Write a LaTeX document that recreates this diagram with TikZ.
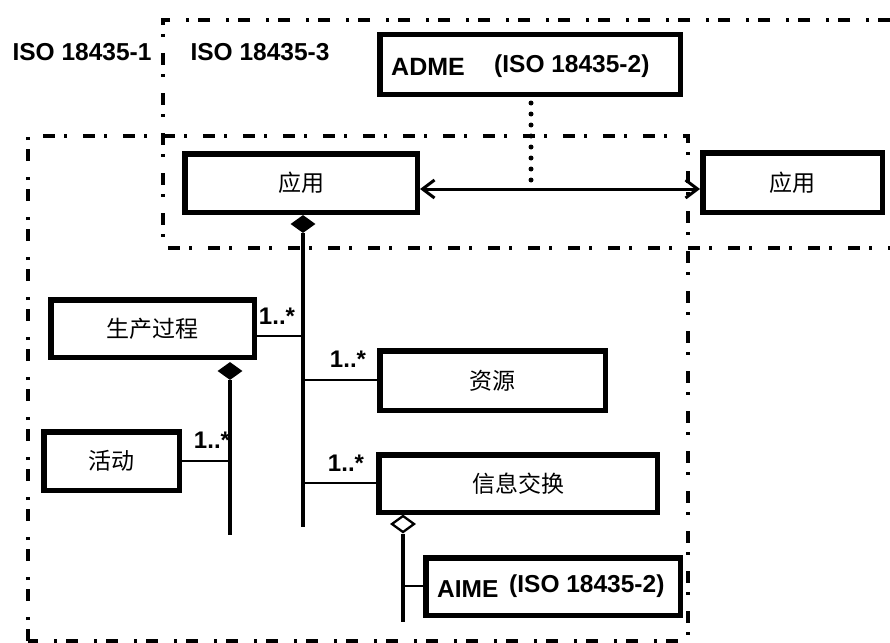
\documentclass[tikz,border=0pt]{standalone}
\usepackage{fontspec}
\setmainfont{Liberation Sans}
\newfontfamily\cjk{Noto Sans CJK SC}
\usetikzlibrary{arrows.meta,shapes.geometric}
\tikzset{
  umlbox/.style={draw, line width=5.5pt, fill=white, inner sep=0pt, font=\cjk\fontsize{23}{26}\selectfont},
  frame/.style={line width=3.5pt, dash pattern=on 12pt off 9pt on 3pt off 16pt},
  trunk/.style={line width=4pt},
  branch/.style={line width=2.3pt},
  mult/.style={font=\bfseries\fontsize{24}{28}\selectfont, inner sep=0pt},
  isolabel/.style={font=\bfseries\fontsize{24.5}{28}\selectfont, inner sep=0pt},
  fulldiamond/.style={diamond, fill, inner sep=0pt, minimum width=25pt, minimum height=18pt},
  opendiamond/.style={diamond, draw, fill=white, line width=2.3pt, inner sep=0pt, minimum width=23pt, minimum height=17pt},
}
\begin{document}
\begin{tikzpicture}[x=1pt,y=-1pt]
\useasboundingbox (0,0) rectangle (890,642);
\fill[white] (0,0) rectangle (890,642);

% frames
\draw[frame] (890,20) -- (163,20) -- (163,248) -- (890,248);
\draw[frame] (28,641) -- (28,136) -- (688,136) -- (688,641) -- cycle;

\node[isolabel] (iso1) at (82,52) {ISO 18435-1};
\node[isolabel] (iso3) at (260,52) {ISO 18435-3};

% ADME
\node[umlbox, minimum width=300.5pt, minimum height=59.5pt] (adme) at (530,64.5) {};
\node[anchor=base west, inner sep=0pt, font=\bfseries\fontsize{25}{28}\selectfont] (admet) at (391,75) {ADME};
\node[anchor=base west, inner sep=0pt, font=\bfseries\fontsize{24.5}{28}\selectfont] (admeiso) at (494,72) {(ISO 18435-2)};

% application boxes
\node[umlbox, minimum width=232.5pt, minimum height=58.5pt] (app1) at (301,183) {应用};
\node[umlbox, minimum width=179.5pt, minimum height=59.5pt] (app2) at (792.5,182.5) {应用};
\coordinate (adot) at (531,182);
\draw[line width=5pt, line cap=round, dash pattern=on 0pt off 11pt] (adme.south -| adot) ++(0,6) -- (adot);
\coordinate (arr) at (560,189);
\draw[line width=3pt, {Straight Barb[length=12pt,width=18pt]}-{Straight Barb[length=12pt,width=18pt]}] (app1.east |- arr) -- (app2.west |- arr);

% main composition
\node[fulldiamond] (d1) at (303,224) {};
\coordinate (t1end) at (303,527);
\draw[trunk] (d1.south) -- (t1end);

\node[umlbox, minimum width=203.5pt, minimum height=57.5pt] (proc) at (152.5,328.5) {生产过程};
\node[umlbox, minimum width=225.5pt, minimum height=59.5pt] (res) at (492.5,380.5) {资源};
\node[umlbox, minimum width=278.5pt, minimum height=57.5pt] (info) at (518,483.5) {信息交换};

\coordinate (j1) at (303,336);
\coordinate (j2) at (303,380);
\coordinate (j3) at (303,483);
\draw[branch] (j1) -- (proc.east |- j1);
\draw[branch] (j2) -- (res.west |- j2);
\draw[branch] (j3) -- (info.west |- j3);
\node[mult] (m1) at (277,316) {1..*};
\node[mult] (m2) at (348,359) {1..*};
\node[mult] (m3) at (346,463) {1..*};

% process composition
\node[fulldiamond] (d2) at (230,371) {};
\coordinate (t2end) at (230,535);
\draw[trunk] (d2.south) -- (t2end);
\node[umlbox, minimum width=135.5pt, minimum height=58.5pt] (act) at (111.5,461) {活动};
\coordinate (j4) at (230,461);
\draw[branch] (j4) -- (act.east |- j4);
\node[mult] (m4) at (212,440) {1..*};

% info aggregation
\node[opendiamond] (d3) at (403,524) {};
\coordinate (t3end) at (403,622);
\draw[trunk] (d3.south) -- (t3end);
\node[umlbox, minimum width=254.5pt, minimum height=57.5pt] (aime) at (553,586.5) {};
\node[anchor=base west, inner sep=0pt, font=\bfseries\fontsize{24.5}{28}\selectfont] (aimet) at (437,597) {AIME};
\node[anchor=base west, inner sep=0pt, font=\bfseries\fontsize{24.5}{28}\selectfont] (aimeiso) at (509,592) {(ISO 18435-2)};
\coordinate (j5) at (403,586);
\draw[branch] (j5) -- (aime.west |- j5);
\end{tikzpicture}
\end{document}
